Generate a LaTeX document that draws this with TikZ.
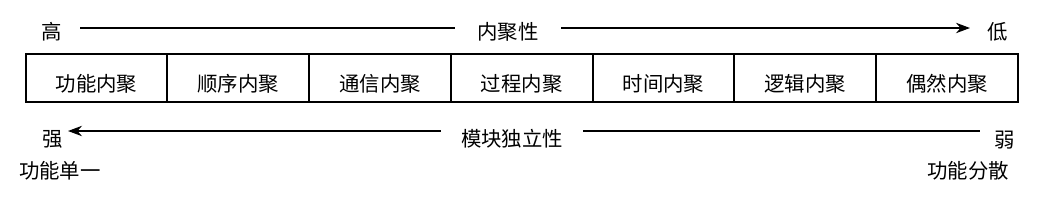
\documentclass[tikz,border=0pt]{standalone}
\usepackage{fontspec}
\setmainfont{Noto Sans CJK SC}
\usetikzlibrary{positioning, arrows.meta}

\begin{document}
\begin{tikzpicture}[
  x=0.025cm, y=-0.025cm,
  every node/.style={font=\fontsize{14.5pt}{16pt}\selectfont, inner sep=0pt},
  cell/.style={draw, line width=1.3pt, outer sep=0pt, minimum width=3.543cm,
               minimum height=1.2cm, text height=0.65cm, text depth=0cm},
  axis/.style={line width=0.9pt},
]
  \useasboundingbox (0,0) rectangle (1041,200);

  % Cohesion types
  \node[cell] (c1) at (96.5,78) {功能内聚};
  \foreach \name [count=\i from 2, evaluate=\i as \j using int(\i-1)] in
      {顺序内聚, 通信内聚, 过程内聚, 时间内聚, 逻辑内聚, 偶然内聚} {
    \node[cell, right=0pt of c\j] (c\i) {\name};
  }

  % Cohesion axis
  \node (high) at (52,32) {高};
  \node (low) at (998,32) {低};
  \node[minimum width=2.65cm] (cohesion) at (508,32) {内聚性};
  \coordinate (hiEnd) at (80,28);
  \coordinate (loEnd) at (970,28);
  \draw[axis] (hiEnd) -- (cohesion.west |- hiEnd);
  \draw[axis, -{Stealth[length=3.5mm, width=2.6mm]}] (cohesion.east |- loEnd) -- (loEnd);

  % Independence axis
  \node (strong) at (53,139) {强};
  \node (weak) at (1005,140) {弱};
  \node (single) at (60,171) {功能单一};
  \node (spread) at (968,171) {功能分散};
  \node[minimum width=3.55cm] (indep) at (512,139) {模块独立性};
  \coordinate (stEnd) at (68,131);
  \coordinate (wkEnd) at (980,131);
  \draw[axis, -{Stealth[length=3.5mm, width=2.6mm]}] (indep.west |- stEnd) -- (stEnd);
  \draw[axis] (indep.east |- wkEnd) -- (wkEnd);
\end{tikzpicture}
\end{document}
